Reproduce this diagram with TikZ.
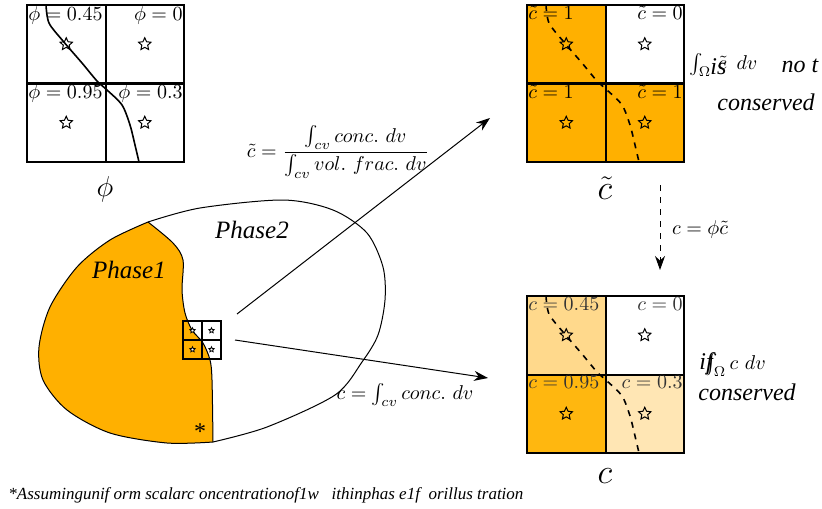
\documentclass[tikz,border=0pt]{standalone}
\usepackage{amsmath}
\usepackage{fontspec}
\newfontfamily\timesfont{Liberation Serif}
\usetikzlibrary{arrows.meta,shapes.geometric}
\definecolor{phaseone}{RGB}{255,176,0}
\definecolor{mixhi}{RGB}{255,183,15}
\definecolor{mixmid}{RGB}{255,217,140}
\definecolor{mixlo}{RGB}{255,230,180}
\begin{document}
\begin{tikzpicture}[
  x=0.5pt, y=-0.5pt, >={Stealth[length=7pt,width=5pt]},
  cell/.style={draw, line width=1pt, minimum size=39.25pt, inner sep=0pt},
  minicell/.style={draw, line width=0.6pt, minimum size=9.5pt, inner sep=0pt},
  cval/.style={inner sep=1pt},
  starmark/.style={star, star points=5, star point ratio=2.1, draw, line width=0.5pt,
                   minimum size=6.5pt, inner sep=0pt},
  ministar/.style={starmark, minimum size=2.8pt, line width=0.4pt, fill=white},
  phtxt/.style={font=\timesfont\itshape\fontsize{12.5}{15}\selectfont},
  sidetxt/.style={font=\timesfont\itshape\fontsize{12}{14}\selectfont, inner sep=0pt},
  flow/.style={->, line width=0.5pt},
]
\useasboundingbox (0,0) rectangle (822,508);
% volume fraction
\begin{scope}[shift={(27,5)}]
\foreach \n/\cx/\cy in {tl/0/0, tr/1/0, bl/0/1, br/1/1} {
  \node[cell] (ph\n) at (39.25+78.5*\cx, 39.25+78.5*\cy) {};
  \node[starmark, fill=white] (ph\n-s) at (ph\n) {};
}
\draw[line width=0.8pt] plot[smooth] coordinates {(19,0) (22,18) (36,36) (55,58) (70,76)
  (80,85) (95,100) (103,120) (108,140) (112,157)};
\foreach \n/\val/\side in {tl/0.45/west, tr/0/east, bl/0.95/west, br/0.3/east}
  \node[cval, anchor=north \side] (ph\n-l) at (ph\n.north \side) {$\phi=\val$};
\end{scope}
\node[font=\Large] (phsym) at (105,189) {$\phi$};
% phase concentration
\begin{scope}[shift={(527,5)}]
\foreach \n/\cx/\cy/\fc in {tl/0/0/phaseone, tr/1/0/white, bl/0/1/phaseone, br/1/1/phaseone} {
  \node[cell, fill=\fc] (ct\n) at (39.25+78.5*\cx, 39.25+78.5*\cy) {};
  \node[starmark, fill=\fc] (ct\n-s) at (ct\n) {};
}
\draw[line width=0.8pt, dashed] plot[smooth] coordinates {(19,0) (22,18) (36,36) (55,58) (70,76)
  (80,85) (95,100) (103,120) (108,140) (112,157)};
\foreach \n/\val/\side in {tl/1/west, tr/0/east, bl/1/west, br/1/east}
  \node[cval, anchor=north \side] (ct\n-l) at (ct\n.north \side) {$\tilde{c}=\val$};
\end{scope}
\node[font=\LARGE] (ctsym) at (605,188) {$\tilde{c}$};
% mixture concentration
\begin{scope}[shift={(527,296)}]
\foreach \n/\cx/\cy/\fc in {tl/0/0/mixmid, tr/1/0/white, bl/0/1/mixhi, br/1/1/mixlo} {
  \node[cell, fill=\fc] (cc\n) at (39.25+78.5*\cx, 39.25+78.5*\cy) {};
  \node[starmark, fill=\fc] (cc\n-s) at (cc\n) {};
}
\draw[line width=0.8pt, dashed] plot[smooth] coordinates {(19,0) (22,18) (36,36) (55,58) (70,76)
  (80,85) (95,100) (103,120) (108,140) (112,157)};
\foreach \n/\val/\side in {tl/0.45/west, tr/0/east, bl/0.95/west, br/0.3/east}
  \node[cval, anchor=north \side, text=black!80] (cc\n-l) at (cc\n.north \side) {$c=\val$};
\end{scope}
\node[font=\LARGE] (ccsym) at (605,476) {$c$};
% domain with the two phases
\fill[phaseone] plot[smooth] coordinates {(213,442) (167,443) (110,433) (67,410) (43,380) (39,347)
  (50,307) (77,267) (110,240) (148,222)}
  -- plot[smooth] coordinates {(148,222) (173,243) (183,260) (182,290) (185,313) (192,330)
  (203,343) (210,360) (212,380) (213,442)} -- cycle;
\draw[line width=0.5pt] plot[smooth] coordinates {(213,442) (167,443) (110,433) (67,410) (43,380)
  (39,347) (50,307) (77,267) (110,240) (148,222)};
\draw[line width=0.5pt] plot[smooth] coordinates {(148,222) (200,208) (283,200) (333,210) (367,233)
  (383,267) (385,300) (378,335) (362,362) (335,395) (267,427) (213,442)};
\draw[line width=0.5pt] plot[smooth] coordinates {(148,222) (173,243) (183,260) (182,290) (185,313)
  (192,330) (203,343) (210,360) (212,380) (213,442)};
\node[phtxt] (p1) at (129,270) {Phase1};
\node[phtxt] (p2) at (252,230) {Phase2};
\node[font=\timesfont\fontsize{12}{14}\selectfont] (ast) at (200,432) {*};
% control volume
\foreach \n/\cx/\cy in {tl/0/0, tr/1/0, bl/0/1, br/1/1} {
  \node[minicell] (cv\n) at (192.5+19*\cx, 330.5+19*\cy) {};
  \node[ministar] (cv\n-s) at (cv\n) {};
}
% maps
\coordinate (upfrom) at (237,314);
\coordinate (upto) at (490,118);
\coordinate (lowfrom) at (235,340);
\coordinate (lowto) at (488,378);
\coordinate (ctdown) at (660,185);
\coordinate (ccup) at (660,270);
\draw[flow] (upfrom) -- (upto);
\draw[flow] (lowfrom) -- (lowto);
\draw[flow, dashed] (ctdown) -- (ccup);
\node (ctdef) at (338,152) {$\tilde{c}=\dfrac{\int_{cv} conc.\ dv}{\int_{cv} vol.\ frac.\ dv}$};
\node (ccdef) at (405,395) {$c=\int_{cv} conc.\ dv$};
\node (cmul) at (700,229) {$c=\phi\tilde{c}$};
% remarks
\node[anchor=west, inner sep=0pt] (nc1) at (689,65) {$\int_\Omega\,\tilde{c}\hspace{5pt}dv$};
\node[sidetxt, anchor=west] (nc1is) at (710,67) {is};
\node[sidetxt] (nc1not) at (800,66) {no t};
\node[sidetxt] (nc1cons) at (766,102) {conserved};
\node[sidetxt, anchor=west] (nc2if) at (699,364) {if};
\node[anchor=west, inner sep=0pt] (nc2) at (704,365) {$\int_\Omega c\ dv$};
\node[sidetxt, anchor=west] (nc2cons) at (698,392) {conserved};
\node[anchor=west, inner sep=0pt, font=\timesfont\itshape\fontsize{8.5}{10}\selectfont] (note) at (8,495)
  {*Assumingunif orm scalarc oncentrationof1w \ \ ithinphas e1f \ orillus tration};
\end{tikzpicture}
\end{document}
